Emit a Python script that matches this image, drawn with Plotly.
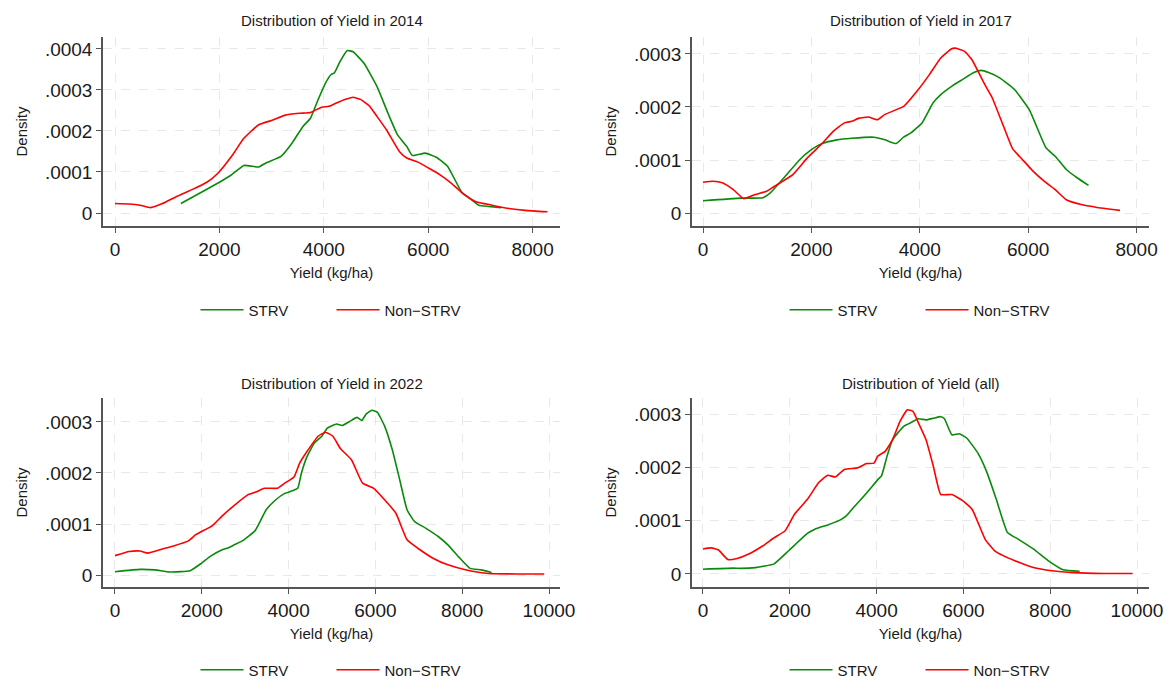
import plotly.graph_objects as go

# ---- kernel density estimates of yield, by survey round and variety type ----
titles = ["Distribution of Yield in 2014", "Distribution of Yield in 2017",
          "Distribution of Yield in 2022", "Distribution of Yield (all)"]
series_names = ["STRV", "Non\u2212STRV"]

x_2014_strv = [1262, 1690, 2000, 2220, 2470, 2750, 2890, 3180, 3390, 3600, 3745, 3890, 4030, 4135,
               4205, 4310, 4450, 4560, 4770, 5020, 5230, 5410, 5590, 5695, 5943, 6156, 6370, 6650,
               6794, 6970, 7150, 7400]
d_2014_strv = [0.23e-4, 0.53e-4, 0.75e-4, 0.92e-4, 1.16e-4, 1.12e-4, 1.22e-4, 1.38e-4, 1.70e-4,
               2.11e-4, 2.31e-4, 2.76e-4, 3.16e-4, 3.37e-4, 3.42e-4, 3.69e-4, 3.96e-4, 3.93e-4,
               3.65e-4, 3.08e-4, 2.43e-4, 1.91e-4, 1.62e-4, 1.40e-4, 1.46e-4, 1.36e-4, 1.14e-4,
               0.49e-4, 0.36e-4, 0.19e-4, 0.16e-4, 0.13e-4]
x_2014_non = [0, 270, 482, 680, 908, 1191, 1475, 1759, 1972, 2255, 2468, 2752, 3035, 3248, 3532,
              3745, 3957, 4099, 4241, 4418, 4560, 4702, 4879, 5021, 5199, 5447, 5589, 5801, 6014,
              6227, 6440, 6652, 6900, 7220, 7574, 7858, 8284]
d_2014_non = [0.23e-4, 0.22e-4, 0.19e-4, 0.13e-4, 0.23e-4, 0.41e-4, 0.57e-4, 0.75e-4, 0.97e-4,
              1.42e-4, 1.82e-4, 2.15e-4, 2.27e-4, 2.38e-4, 2.43e-4, 2.45e-4, 2.58e-4, 2.60e-4,
              2.68e-4, 2.77e-4, 2.82e-4, 2.77e-4, 2.60e-4, 2.35e-4, 2.03e-4, 1.50e-4, 1.34e-4,
              1.24e-4, 1.09e-4, 0.93e-4, 0.73e-4, 0.49e-4, 0.28e-4, 0.19e-4, 0.105e-4, 0.065e-4,
              0.03e-4]

x_2017_strv = [0, 696, 1106, 1242, 1515, 1788, 1993, 2198, 2471, 2744, 3154, 3358, 3563, 3700,
               3836, 4041, 4246, 4382, 4587, 4792, 4997, 5133, 5270, 5474, 5747, 6020, 6328, 6498,
               6703, 6908, 7113]
d_2017_strv = [0.23e-4, 0.28e-4, 0.29e-4, 0.38e-4, 0.69e-4, 1.01e-4, 1.19e-4, 1.31e-4, 1.38e-4,
               1.41e-4, 1.43e-4, 1.38e-4, 1.31e-4, 1.43e-4, 1.51e-4, 1.70e-4, 2.08e-4, 2.23e-4,
               2.39e-4, 2.52e-4, 2.65e-4, 2.69e-4, 2.65e-4, 2.55e-4, 2.33e-4, 1.95e-4, 1.23e-4,
               1.07e-4, 0.82e-4, 0.66e-4, 0.52e-4]
x_2017_non = [0, 184, 355, 560, 751, 969, 1174, 1311, 1652, 1925, 2198, 2403, 2608, 2744, 2880,
              3051, 3222, 3358, 3700, 3973, 4177, 4382, 4587, 4655, 4826, 4962, 5201, 5338, 5543,
              5713, 5884, 6089, 6294, 6498, 6703, 6976, 7249, 7693]
d_2017_non = [0.58e-4, 0.60e-4, 0.57e-4, 0.44e-4, 0.27e-4, 0.35e-4, 0.41e-4, 0.50e-4, 0.72e-4,
              1.04e-4, 1.31e-4, 1.54e-4, 1.70e-4, 1.73e-4, 1.79e-4, 1.81e-4, 1.76e-4, 1.86e-4,
              2.01e-4, 2.33e-4, 2.61e-4, 2.92e-4, 3.10e-4, 3.11e-4, 3.05e-4, 2.89e-4, 2.42e-4,
              2.17e-4, 1.64e-4, 1.21e-4, 1.02e-4, 0.79e-4, 0.60e-4, 0.44e-4, 0.25e-4, 0.16e-4,
              0.11e-4, 0.05e-4]

x_2022_strv = [0, 581, 922, 1264, 1734, 1990, 2203, 2459, 2630, 2972, 3228, 3484, 3698, 3911,
               4082, 4210, 4296, 4424, 4594, 4765, 4893, 5107, 5235, 5406, 5576, 5687, 5790, 5918,
               6046, 6217, 6388, 6559, 6729, 6900, 7156, 7455, 7669, 7925, 8181, 8437, 8676]
d_2022_strv = [0.065e-4, 0.11e-4, 0.10e-4, 0.06e-4, 0.085e-4, 0.23e-4, 0.37e-4, 0.49e-4, 0.54e-4,
               0.69e-4, 0.87e-4, 1.28e-4, 1.47e-4, 1.60e-4, 1.65e-4, 1.70e-4, 2.00e-4, 2.32e-4,
               2.59e-4, 2.72e-4, 2.88e-4, 2.96e-4, 2.93e-4, 3.01e-4, 3.09e-4, 3.03e-4, 3.16e-4,
               3.23e-4, 3.19e-4, 2.91e-4, 2.46e-4, 1.87e-4, 1.28e-4, 1.05e-4, 0.92e-4, 0.75e-4,
               0.59e-4, 0.35e-4, 0.13e-4, 0.10e-4, 0.05e-4]
x_2022_non = [0, 325, 581, 751, 1093, 1349, 1691, 1862, 2246, 2459, 2715, 3057, 3228, 3442, 3741,
              3911, 4125, 4253, 4424, 4680, 4850, 5021, 5192, 5448, 5704, 5960, 6217, 6473, 6729,
              6985, 7326, 7669, 8096, 8608, 9291, 9889]
d_2022_non = [0.38e-4, 0.46e-4, 0.47e-4, 0.43e-4, 0.51e-4, 0.57e-4, 0.67e-4, 0.79e-4, 0.97e-4,
              1.15e-4, 1.34e-4, 1.57e-4, 1.62e-4, 1.70e-4, 1.70e-4, 1.80e-4, 1.92e-4, 2.19e-4,
              2.42e-4, 2.72e-4, 2.80e-4, 2.72e-4, 2.48e-4, 2.26e-4, 1.80e-4, 1.70e-4, 1.47e-4,
              1.21e-4, 0.69e-4, 0.52e-4, 0.33e-4, 0.20e-4, 0.10e-4, 0.03e-4, 0.02e-4, 0.02e-4]

x_all_strv = [0, 700, 870, 1212, 1638, 1980, 2406, 2577, 2875, 3131, 3302, 3430, 3771, 4027, 4113,
              4241, 4369, 4625, 4795, 4966, 5137, 5307, 5478, 5563, 5734, 5904, 6075, 6331, 6544,
              6758, 7014, 7270, 7611, 7952, 8294, 8678]
d_all_strv = [0.09e-4, 0.11e-4, 0.105e-4, 0.12e-4, 0.19e-4, 0.44e-4, 0.76e-4, 0.84e-4, 0.92e-4,
              1.00e-4, 1.09e-4, 1.21e-4, 1.52e-4, 1.77e-4, 1.84e-4, 2.21e-4, 2.52e-4, 2.77e-4,
              2.84e-4, 2.91e-4, 2.89e-4, 2.92e-4, 2.95e-4, 2.91e-4, 2.61e-4, 2.63e-4, 2.55e-4,
              2.27e-4, 1.90e-4, 1.40e-4, 0.78e-4, 0.65e-4, 0.47e-4, 0.25e-4, 0.08e-4, 0.05e-4]
x_all_non = [0, 188, 358, 572, 785, 1041, 1382, 1638, 1894, 2108, 2406, 2662, 2875, 3046, 3259,
             3558, 3771, 3942, 4027, 4198, 4369, 4539, 4710, 4838, 4966, 5137, 5307, 5478, 5734,
             5990, 6203, 6502, 6715, 6928, 7184, 7611, 8038, 8550, 9232, 9898]
d_all_non = [0.47e-4, 0.49e-4, 0.45e-4, 0.27e-4, 0.29e-4, 0.37e-4, 0.53e-4, 0.68e-4, 0.81e-4,
             1.12e-4, 1.40e-4, 1.71e-4, 1.85e-4, 1.82e-4, 1.96e-4, 1.99e-4, 2.07e-4, 2.08e-4,
             2.21e-4, 2.30e-4, 2.52e-4, 2.86e-4, 3.08e-4, 3.05e-4, 2.83e-4, 2.52e-4, 2.02e-4,
             1.49e-4, 1.49e-4, 1.37e-4, 1.21e-4, 0.65e-4, 0.44e-4, 0.34e-4, 0.25e-4, 0.12e-4,
             0.06e-4, 0.025e-4, 0.01e-4, 0.01e-4]

# tick labels
y_ticks_2014 = [0, 0.0001, 0.0002, 0.0003, 0.0004]
y_ticks_other = [0, 0.0001, 0.0002, 0.0003]
y_tick_text = ["0", ".0001", ".0002", ".0003", ".0004"]
x_ticks_8k = [0, 2000, 4000, 6000, 8000]
x_ticks_10k = [0, 2000, 4000, 6000, 8000, 10000]

# ---- layout geometry for the 2x2 grid ----
W, H = 1166, 679
GREEN, RED = "#0a8a0a", "#ff0000"
FONT = "Liberation Sans, Arial, Helvetica, sans-serif"
TXT = "#1a1a1a"
AXC = "#555555"
GRID = "#e8e8e8"

panels = [
    dict(title=titles[0], xs=(x_2014_strv, x_2014_non), ds=(d_2014_strv, d_2014_non),
         xd=(103, 560), yd=(37, 226), xr=(-230, 8525), yr=(-0.317e-4, 4.29e-4),
         xt=x_ticks_8k, yt=y_ticks_2014, titley=20, legy=310),
    dict(title=titles[1], xs=(x_2017_strv, x_2017_non), ds=(d_2017_strv, d_2017_non),
         xd=(692, 1149), yd=(37, 226), xr=(-203, 8229), yr=(-0.245e-4, 3.32e-4),
         xt=x_ticks_8k, yt=y_ticks_other, titley=20, legy=310),
    dict(title=titles[2], xs=(x_2022_strv, x_2022_non), ds=(d_2022_strv, d_2022_non),
         xd=(103, 560), yd=(398, 587), xr=(-276, 10253), yr=(-0.235e-4, 3.47e-4),
         xt=x_ticks_10k, yt=y_ticks_other, titley=383, legy=670),
    dict(title=titles[3], xs=(x_all_strv, x_all_non), ds=(d_all_strv, d_all_non),
         xd=(692, 1149), yd=(398, 587), xr=(-253, 10276), yr=(-0.244e-4, 3.30e-4),
         xt=x_ticks_10k, yt=y_ticks_other, titley=383, legy=670),
]

fig = go.Figure()
layout = dict(
    width=W, height=H, margin=dict(l=0, r=0, t=0, b=0, autoexpand=False),
    paper_bgcolor="white", plot_bgcolor="white",
    font=dict(family=FONT, color=TXT), annotations=[],
)

for i, p in enumerate(panels):
    n = i + 1
    sfx = "" if n == 1 else str(n)
    leg = "legend" if n == 1 else f"legend{n}"
    for xs, ds, name, col in zip(p["xs"], p["ds"], series_names, [GREEN, RED]):
        fig.add_trace(go.Scatter(
            x=xs, y=ds, mode="lines", name=name,
            line=dict(color=col, width=1.6, shape="spline", smoothing=0.4),
            xaxis=f"x{sfx}", yaxis=f"y{sfx}", legend=leg, hoverinfo="skip",
        ))
    x0, x1 = p["xd"][0] / W, p["xd"][1] / W
    y0, y1 = 1 - p["yd"][1] / H, 1 - p["yd"][0] / H
    layout[f"xaxis{sfx}"] = dict(
        domain=[x0, x1], range=list(p["xr"]), anchor=f"y{sfx}",
        tickvals=p["xt"], ticktext=[str(v) for v in p["xt"]],
        ticks="outside", ticklen=5, tickcolor=AXC, tickwidth=1.2,
        showline=True, linecolor=AXC, linewidth=1.5,
        showgrid=True, gridcolor=GRID, griddash="dash", gridwidth=1, zeroline=False,
        tickfont=dict(size=19, color=TXT),
        title=dict(text="Yield (kg/ha)", font=dict(size=15, color=TXT), standoff=9),
    )
    layout[f"yaxis{sfx}"] = dict(
        domain=[y0, y1], range=list(p["yr"]), anchor=f"x{sfx}",
        tickvals=p["yt"], ticktext=y_tick_text[:len(p["yt"])],
        ticks="outside", ticklen=5, tickcolor=AXC, tickwidth=1.2,
        showline=True, linecolor=AXC, linewidth=1.5,
        showgrid=True, gridcolor=GRID, griddash="dash", gridwidth=1, zeroline=False,
        tickfont=dict(size=19, color=TXT),
        title=dict(text="Density", font=dict(size=15, color=TXT), standoff=14),
    )
    layout[leg] = dict(
        orientation="h", x=(x0 + x1) / 2, xanchor="center",
        y=1 - p["legy"] / H, yanchor="middle",
        font=dict(size=15, color=TXT), bgcolor="rgba(0,0,0,0)",
        itemwidth=43, entrywidth=78, entrywidthmode="pixels",
    )
    layout["annotations"].append(dict(
        text=p["title"], x=(x0 + x1) / 2, y=1 - p["titley"] / H, xref="paper", yref="paper",
        xanchor="center", yanchor="middle", showarrow=False,
        font=dict(size=15, color=TXT),
    ))

fig.update_layout(**layout)
fig.write_html("out.html")
